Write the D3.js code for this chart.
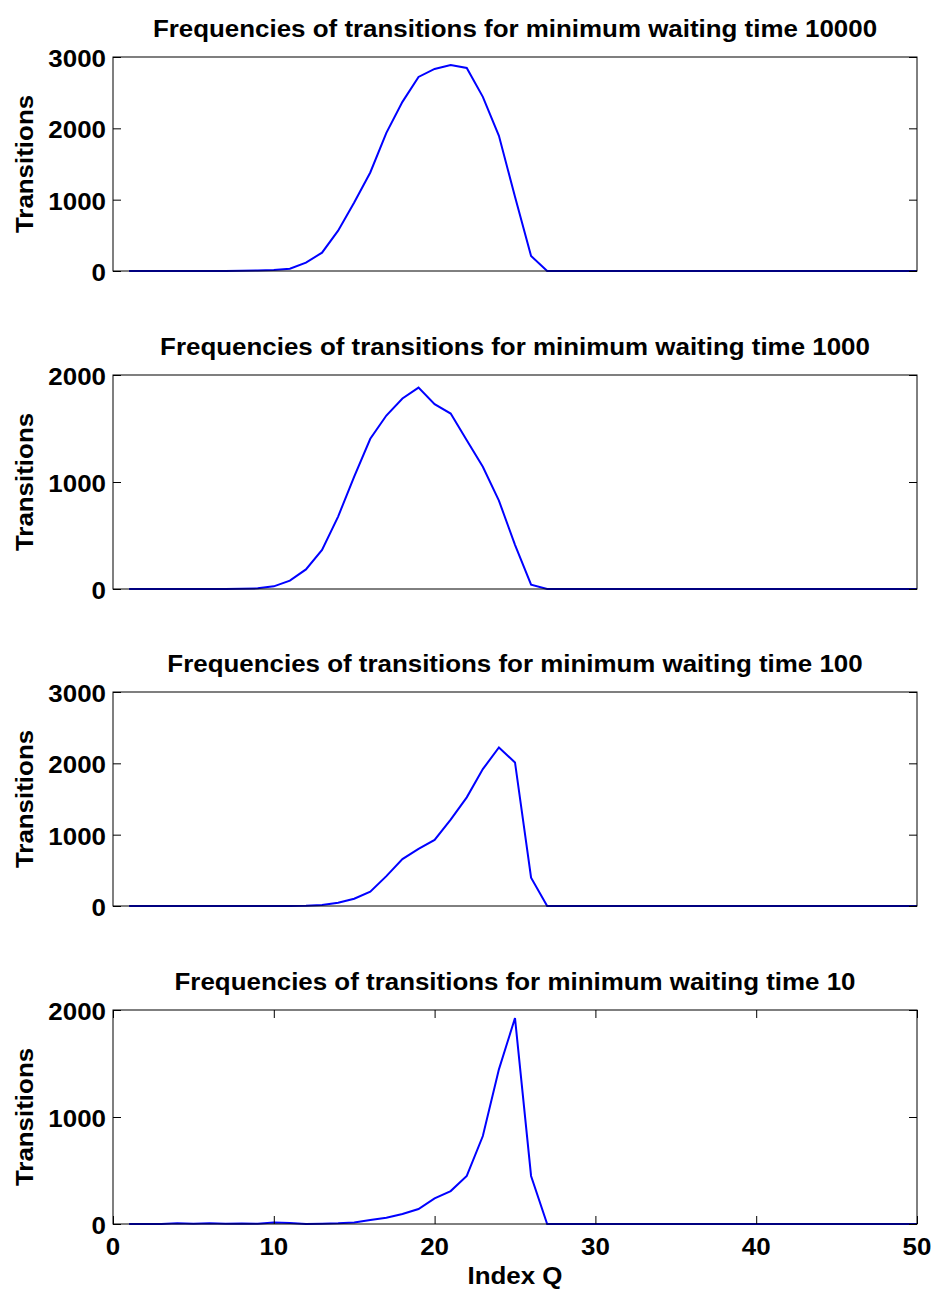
<!DOCTYPE html>
<html>
<head>
<meta charset="utf-8">
<script src="https://cdn.jsdelivr.net/npm/d3@7"></script>
<style>
  html, body { margin: 0; padding: 0; background: #fff; }
  svg { display: block; }
  text { font-family: "Liberation Sans", Arial, Helvetica, sans-serif; font-weight: bold; fill: #000; }
</style>
</head>
<body>
<svg id="chart" width="936" height="1289"></svg>
<script>
// Index Q runs 1..50
const indexQ = d3.range(1, 51);

// Transition counts per index, one list per minimum waiting time
const wait10000 = [0,0,0,0,0,0,0,3,8,15,33,117,257,565,961,1381,1937,2371,2721,2833,2889,2847,2441,1895,1041,210,0,
  0,0,0,0,0,0,0,0,0,0,0,0,0,0,0,0,0,0,0,0,0,0,0];
const wait1000 = [0,0,0,0,0,0,0,2,6,25,78,183,366,677,1050,1404,1621,1780,1882,1727,1640,1391,1143,826,413,40,0,
  0,0,0,0,0,0,0,0,0,0,0,0,0,0,0,0,0,0,0,0,0,0,0];
const wait100 = [0,0,0,0,0,0,0,0,0,0,1,3,14,47,102,200,419,657,801,927,1211,1523,1919,2222,2012,396,0,
  0,0,0,0,0,0,0,0,0,0,0,0,0,0,0,0,0,0,0,0,0,0,0];
const wait10 = [0,0,0,6,3,6,2,5,3,15,9,0,3,6,15,37,59,93,140,240,308,449,822,1445,1925,449,0,
  0,0,0,0,0,0,0,0,0,0,0,0,0,0,0,0,0,0,0,0,0,0,0];

const panelTitles = [
  "Frequencies of transitions for minimum waiting time 10000",
  "Frequencies of transitions for minimum waiting time 1000",
  "Frequencies of transitions for minimum waiting time 100",
  "Frequencies of transitions for minimum waiting time 10"
];
const panelSeries = [wait10000, wait1000, wait100, wait10];
const yMax = [3000, 2000, 3000, 2000];
const yTickStep = 1000;
const xDomain = [0, 50];
const xTicks = [0, 10, 20, 30, 40, 50];
const yLabel = "Transitions";
const xLabel = "Index Q";

const svg = d3.select("#chart");
const left = 113, right = 917, plotH = 214;
const tops = [57, 375, 692, 1010];
const tickLen = 8;
const fontSize = 24;
const widen = 1.08;   // slightly wider glyphs than the stock sans

const x = d3.scaleLinear().domain(xDomain).range([left, right]);

// text placed at (px,py), horizontally widened around its anchor
function label(parent, px, py, str, anchor, rotate) {
  const g = parent.append("g")
    .attr("transform", `translate(${px},${py})${rotate ? " rotate(-90)" : ""} scale(${widen},1)`);
  g.append("text")
    .attr("text-anchor", anchor)
    .attr("font-size", fontSize)
    .text(str);
  return g;
}

panelSeries.forEach((series, i) => {
  const top = tops[i], bottom = top + plotH;
  const y = d3.scaleLinear().domain([0, yMax[i]]).range([bottom, top]);
  const g = svg.append("g");
  const isLast = i === panelSeries.length - 1;
  const yTicks = d3.range(0, yMax[i] + 1, yTickStep);

  // data line
  const line = d3.line().x((d, k) => x(indexQ[k])).y(d => y(d));
  g.append("path")
    .datum(series)
    .attr("d", line)
    .attr("fill", "none")
    .attr("stroke", "#0000ff")
    .attr("stroke-width", 2)
    .attr("stroke-linejoin", "miter");

  // left axis with inward ticks
  const yAxisL = d3.axisLeft(y).tickValues(yTicks).tickSize(-tickLen).tickFormat("");
  const gl = g.append("g").attr("transform", `translate(${left},0)`).call(yAxisL);
  // right axis with inward ticks, no labels
  const yAxisR = d3.axisRight(y).tickValues(yTicks).tickSize(-tickLen).tickFormat("");
  const gr = g.append("g").attr("transform", `translate(${right},0)`).call(yAxisR);

  [gl, gr].forEach(a => {
    a.select(".domain").remove();
    a.selectAll(".tick line").attr("stroke", "#000").attr("stroke-width", 1);
  });
  // y tick labels from the same scale
  yTicks.forEach(v => label(g, left - 7, y(v) + 10, d3.format("d")(v), "end"));

  if (isLast) {
    const xAxisB = d3.axisBottom(x).tickValues(xTicks).tickSize(-tickLen).tickFormat("");
    const gb = g.append("g").attr("transform", `translate(0,${bottom})`).call(xAxisB);
    const xAxisT = d3.axisTop(x).tickValues(xTicks).tickSize(-tickLen).tickFormat("");
    const gt = g.append("g").attr("transform", `translate(0,${top})`).call(xAxisT);
    [gb, gt].forEach(a => {
      a.select(".domain").remove();
      a.selectAll(".tick line").attr("stroke", "#000").attr("stroke-width", 1);
    });
    xTicks.forEach(v => label(g, x(v), bottom + 31, d3.format("d")(v), "middle"));

    label(g, (left + right) / 2, bottom + 60, xLabel, "middle");
  }

  // frame
  g.append("rect")
    .attr("x", left).attr("y", top)
    .attr("width", right - left).attr("height", plotH)
    .attr("fill", "none")
    .attr("stroke", "#000")
    .attr("stroke-width", 1);

  // title
  label(g, (left + right) / 2, top - 20, panelTitles[i], "middle");

  // y label
  label(g, 33, (top + bottom) / 2, yLabel, "middle", true);
});
</script>
</body>
</html>
